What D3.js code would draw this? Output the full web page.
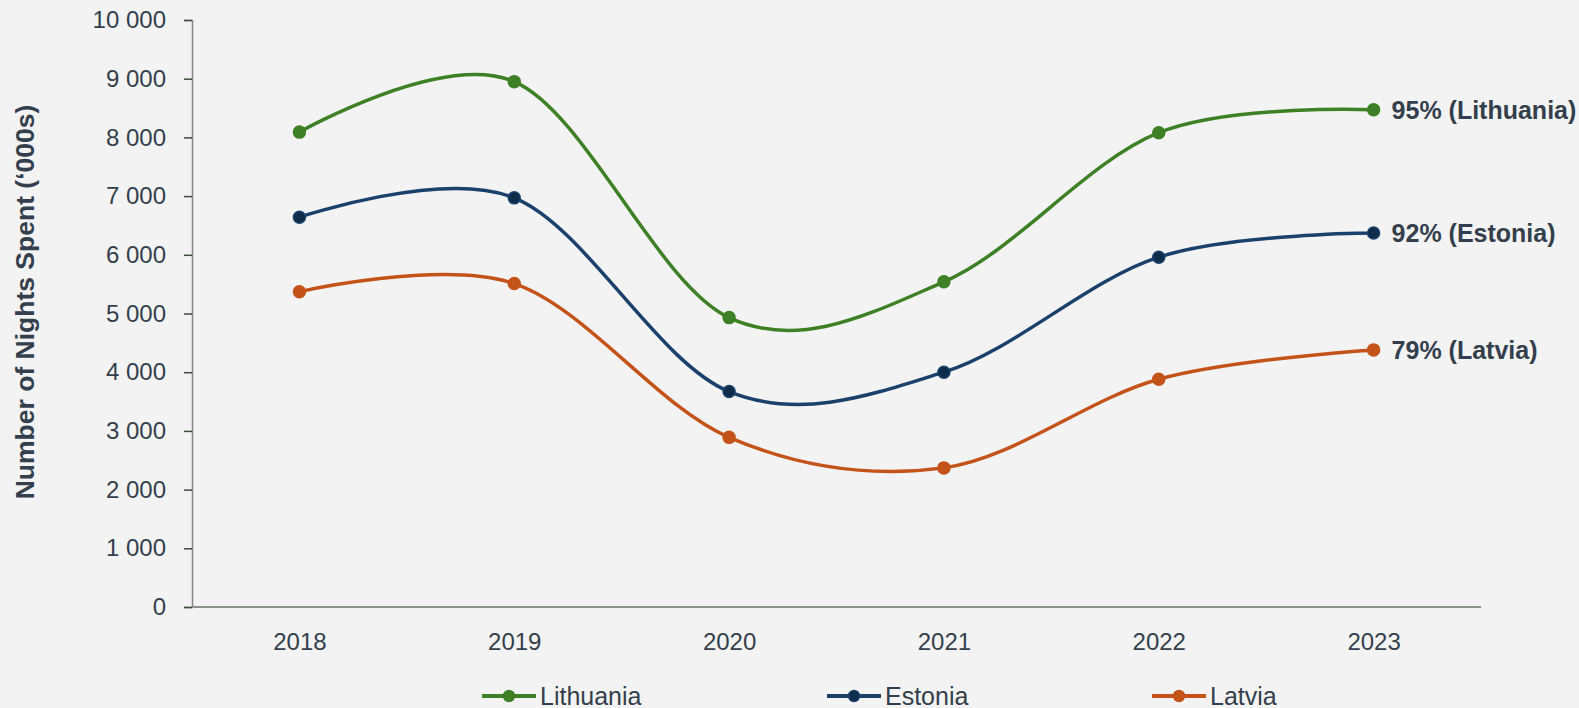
<!DOCTYPE html>
<html>
<head>
<meta charset="utf-8">
<script src="https://cdn.jsdelivr.net/npm/d3@7/dist/d3.min.js"></script>
<style>
    html, body { margin: 0; padding: 0; background: #f3f3f3; }
    svg { display: block; font-family: "Liberation Sans", Arial, sans-serif; }
</style>
</head>
<body>
<svg id="Target" width="1579" height="708"></svg>
<script>
// data
var years = ["2018", "2019", "2020", "2021", "2022", "2023"];
var lithuania = [8090, 8950, 4930, 5540, 8080, 8470];
var estonia = [6640, 6970, 3670, 4000, 5960, 6370];
var latvia = [5370, 5510, 2890, 2370, 3880, 4380];
var seriesNames = ["Lithuania", "Estonia", "Latvia"];
var endLabels = ["95% (Lithuania)", "92% (Estonia)", "79% (Latvia)"];
var yTicks = [0, 1000, 2000, 3000, 4000, 5000, 6000, 7000, 8000, 9000, 10000];

var series = [
    { name: seriesNames[0], values: lithuania, label: endLabels[0], color: "#3d8025", dot: "#3d8025" },
    { name: seriesNames[1], values: estonia, label: endLabels[1], color: "#1a406c", dot: "#0e2d4a" },
    { name: seriesNames[2], values: latvia, label: endLabels[2], color: "#c4531a", dot: "#c4531a" }
];

var textColor = "#333f4c";
var svg = d3.select("#Target");

// scales
var x = d3.scalePoint()
    .domain(years)
    .range([192, 1481])
    .padding(0.5);
var y = d3.scaleLinear()
    .domain([0, 10000])
    .range([607, 20]);

var fmt = function (v) { return d3.format(",")(v).replace(/,/g, " "); };

// y axis
var yAxis = svg.append("g")
    .attr("transform", "translate(192, 0)")
    .call(d3.axisLeft(y).tickValues(yTicks).tickSize(8).tickPadding(18).tickFormat(fmt));
yAxis.select(".domain").attr("stroke", "#7f877f").attr("stroke-width", 1.5);
yAxis.selectAll(".tick line").attr("stroke", "#3e4a3e").attr("stroke-width", 1.5);
yAxis.selectAll(".tick text")
    .attr("fill", textColor)
    .attr("font-size", 24)
    .attr("font-family", "Liberation Sans, Arial, sans-serif");

// x axis
var xAxis = svg.append("g")
    .attr("transform", "translate(0, 607)")
    .call(d3.axisBottom(x).tickSize(0).tickPadding(26));
xAxis.select(".domain")
    .attr("d", "M192,0H1481")
    .attr("stroke", "#8c938b").attr("stroke-width", 2);
xAxis.selectAll(".tick text")
    .attr("fill", textColor)
    .attr("font-size", 24)
    .attr("font-family", "Liberation Sans, Arial, sans-serif");

// y axis title
svg.append("text")
    .attr("transform", "translate(34, 302) rotate(-90)")
    .attr("text-anchor", "middle")
    .attr("font-size", 26.5)
    .attr("font-weight", "bold")
    .attr("fill", textColor)
    .text("Number of Nights Spent (\u2018000s)");

// lines
var lineGenerator = d3.line()
    .x(function (d, i) { return x(years[i]); })
    .y(function (d) { return y(d); })
    .curve(d3.curveCardinal.tension(0));

var group = svg.selectAll("g.series")
    .data(series)
    .enter()
    .append("g")
    .attr("class", "series");

group.append("path")
    .attr("d", function (d) { return lineGenerator(d.values); })
    .attr("fill", "none")
    .attr("stroke", function (d) { return d.color; })
    .attr("stroke-width", 3.5);

group.selectAll("circle")
    .data(function (d) { return d.values.map(function (v) { return { v: v, s: d }; }); })
    .enter()
    .append("circle")
    .attr("cx", function (d, i) { return x(years[i]); })
    .attr("cy", function (d) { return y(d.v); })
    .attr("r", 6)
    .attr("fill", function (d) { return d.s.dot; })
    .attr("stroke", function (d) { return d.s.color; })
    .attr("stroke-width", 1.5);

// end labels
group.append("text")
    .attr("x", x(years[years.length - 1]) + 18)
    .attr("y", function (d) { return y(d.values[d.values.length - 1]); })
    .attr("dy", "0.36em")
    .attr("font-size", 25)
    .attr("font-weight", "bold")
    .attr("fill", textColor)
    .text(function (d) { return d.label; });

// legend
var legendX = [482, 827, 1152];
var legend = svg.selectAll("g.legend")
    .data(series)
    .enter()
    .append("g")
    .attr("class", "legend")
    .attr("transform", function (d, i) { return "translate(" + legendX[i] + ", 696)"; });
legend.append("line")
    .attr("x1", 0).attr("x2", 54)
    .attr("stroke", function (d) { return d.color; })
    .attr("stroke-width", 4);
legend.append("circle")
    .attr("cx", 27)
    .attr("r", 5.5)
    .attr("fill", function (d) { return d.dot; })
    .attr("stroke", function (d) { return d.color; })
    .attr("stroke-width", 1.5);
legend.append("text")
    .attr("x", 58)
    .attr("y", 8.5)
    .attr("font-size", 25)
    .attr("fill", textColor)
    .text(function (d) { return d.name; });
</script>
</body>
</html>
